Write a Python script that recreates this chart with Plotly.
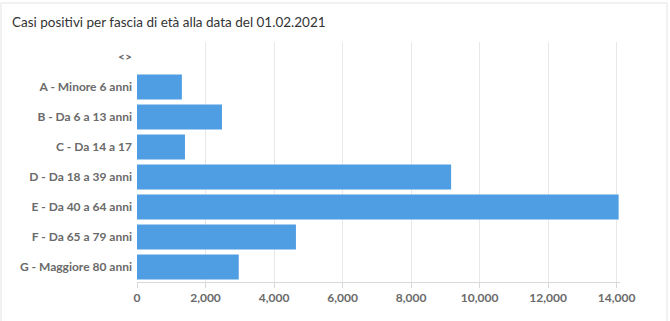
import plotly.graph_objects as go

categories = ["<>", "A - Minore 6 anni", "B - Da 6 a 13 anni", "C - Da 14 a 17",
              "D - Da 18 a 39 anni", "E - Da 40 a 64 anni", "F - Da 65 a 79 anni",
              "G - Maggiore 80 anni"]
values = [None, 1310, 2480, 1400, 9170, 14060, 4640, 2970]
tick_vals = [0, 2000, 4000, 6000, 8000, 10000, 12000, 14000]
title_text = "Casi positivi per fascia di età alla data del 01.02.2021"

W, H = 670, 321
L, R, T, B = 137, 50, 42, 39
pw, ph = W - L - R, H - T - B

fig = go.Figure(go.Bar(
    x=values, y=categories, orientation="h",
    marker=dict(color="#4f9de3", line=dict(width=0)),
    hoverinfo="x+y",
))

fig.update_layout(
    width=W, height=H,
    margin=dict(l=L, r=R, t=T, b=B, pad=0),
    paper_bgcolor="white", plot_bgcolor="white",
    bargap=0.17,
    showlegend=False,
    font=dict(family="Lato, 'Open Sans', sans-serif", color="#333"),
    title=dict(text=title_text, x=12 / W, xanchor="left", y=1 - 22 / H, yanchor="middle",
               font=dict(size=13.5, color="#333333", family="Lato")),
    xaxis=dict(range=[0, 14100], tickvals=tick_vals, tickformat=",",
               showgrid=True, gridcolor="#e8e8e8", gridwidth=1,
               zeroline=False, showline=True, linecolor="#d8d8d8", linewidth=1,
               ticks="outside", ticklen=5, tickcolor="#d8d8d8",
               tickfont=dict(size=12, color="#6a6a6a", family="Lato", weight="bold")),
    yaxis=dict(autorange="reversed", showgrid=False, zeroline=False, showline=False,
               ticks="", ticklabelstandoff=4,
               tickfont=dict(size=12, color="#6a6a6a", family="Lato", weight="bold")),
    shapes=[dict(type="rect", xref="paper", yref="paper",
                 x0=(1 - L) / pw, x1=(W - 3 - L) / pw,
                 y0=(B - 318) / ph, y1=1 + (T - 3) / ph,
                 line=dict(color="#e4e4e4", width=1), layer="below")],
)

fig.write_html("out.html")
